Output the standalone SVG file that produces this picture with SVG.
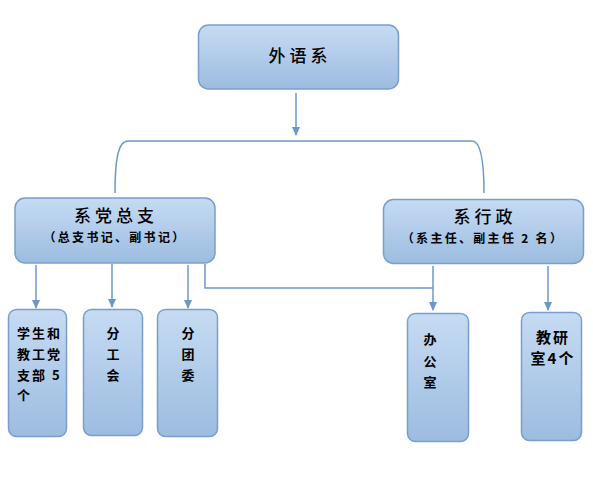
<svg xmlns="http://www.w3.org/2000/svg" width="593" height="477" viewBox="0 0 593 477">
<defs>
<linearGradient id="g" x1="0" y1="0" x2="0" y2="1">
<stop offset="0" stop-color="#c6dbf3"/>
<stop offset="1" stop-color="#9cbce0"/>
</linearGradient>
<marker id="arr" markerWidth="9" markerHeight="8" refX="8" refY="4" orient="auto" markerUnits="userSpaceOnUse">
<path d="M0,0 L9,4 L0,8 Z" fill="#6f97c6"/>
</marker>
<style>
.box{fill:url(#g);stroke:#7a9ecb;stroke-width:1.5}
.ln{fill:none;stroke:#6f97c6;stroke-width:1.5}
text{font-family:"Noto Sans CJK SC","Noto Sans CJK JP",sans-serif;fill:#000}
.t1{font-size:17px;font-weight:500;letter-spacing:4px;text-anchor:middle}
.t2{font-size:12px;font-weight:bold;letter-spacing:2.3px;text-anchor:middle}
.t3{font-size:13px;font-weight:bold}
.t4{font-size:15px;font-weight:bold;text-anchor:middle;letter-spacing:2px}
.tc{text-anchor:middle}
</style>
</defs>
<rect width="593" height="477" fill="#fff"/>
<g id="connectors">
<path class="ln" d="M296,93 V135" marker-end="url(#arr)"/>
<path class="ln" d="M115,193 C115,160 118,141 128,141 H472 C480,141 484,160 484,193"/>
<path class="ln" d="M36,265 V308" marker-end="url(#arr)"/>
<path class="ln" d="M112,264 V307" marker-end="url(#arr)"/>
<path class="ln" d="M188,265 V308" marker-end="url(#arr)"/>
<path class="ln" d="M205,264 V288 H433"/>
<path class="ln" d="M433,266 V310" marker-end="url(#arr)"/>
<path class="ln" d="M548,266 V310" marker-end="url(#arr)"/>
</g>
<g id="n-waiyuxi">
<rect class="box" x="198.5" y="25" width="200" height="64" rx="10"/>
<text class="t1" x="300" y="62">外语系</text>
</g>
<g id="n-dangzongzhi">
<rect class="box" x="15" y="198" width="200" height="65" rx="10"/>
<text class="t1" x="116" y="222">系党总支</text>
<text class="t2" x="115" y="242">（总支书记、副书记）</text>
</g>
<g id="n-xingzheng">
<rect class="box" x="383.5" y="199.5" width="200" height="64" rx="10"/>
<text class="t1" x="485" y="223">系行政</text>
<text class="t2" x="483" y="243">（系主任、副主任 2 名）</text>
</g>
<g id="n-dangzhibu">
<rect class="box" x="8.5" y="309.5" width="58" height="127" rx="8"/>
<text class="t3" x="17" y="338" letter-spacing="2">学生和</text>
<text class="t3" x="17" y="359" letter-spacing="2">教工党</text>
<text class="t3" x="17" y="380" letter-spacing="2">支部 5</text>
<text class="t3" x="17" y="400">个</text>
</g>
<g id="n-fengonghui">
<rect class="box" x="83.5" y="309.5" width="59" height="126" rx="8"/>
<text class="t3 tc" x="113" y="338">分</text>
<text class="t3 tc" x="113" y="359">工</text>
<text class="t3 tc" x="113" y="380">会</text>
</g>
<g id="n-fentuanwei">
<rect class="box" x="157.5" y="309.5" width="60" height="127" rx="8"/>
<text class="t3 tc" x="188" y="338">分</text>
<text class="t3 tc" x="188" y="359">团</text>
<text class="t3 tc" x="188" y="380">委</text>
</g>
<g id="n-bangongshi">
<rect class="box" x="407.5" y="313.5" width="61" height="128" rx="8"/>
<text class="t3 tc" x="430" y="344">办</text>
<text class="t3 tc" x="430" y="366">公</text>
<text class="t3 tc" x="430" y="387">室</text>
</g>
<g id="n-jiaoyanshi">
<rect class="box" x="521.5" y="312.5" width="60" height="128" rx="8"/>
<text class="t4" x="553" y="343">教研</text>
<text class="t4" x="553" y="364">室4个</text>
</g>
</svg>
